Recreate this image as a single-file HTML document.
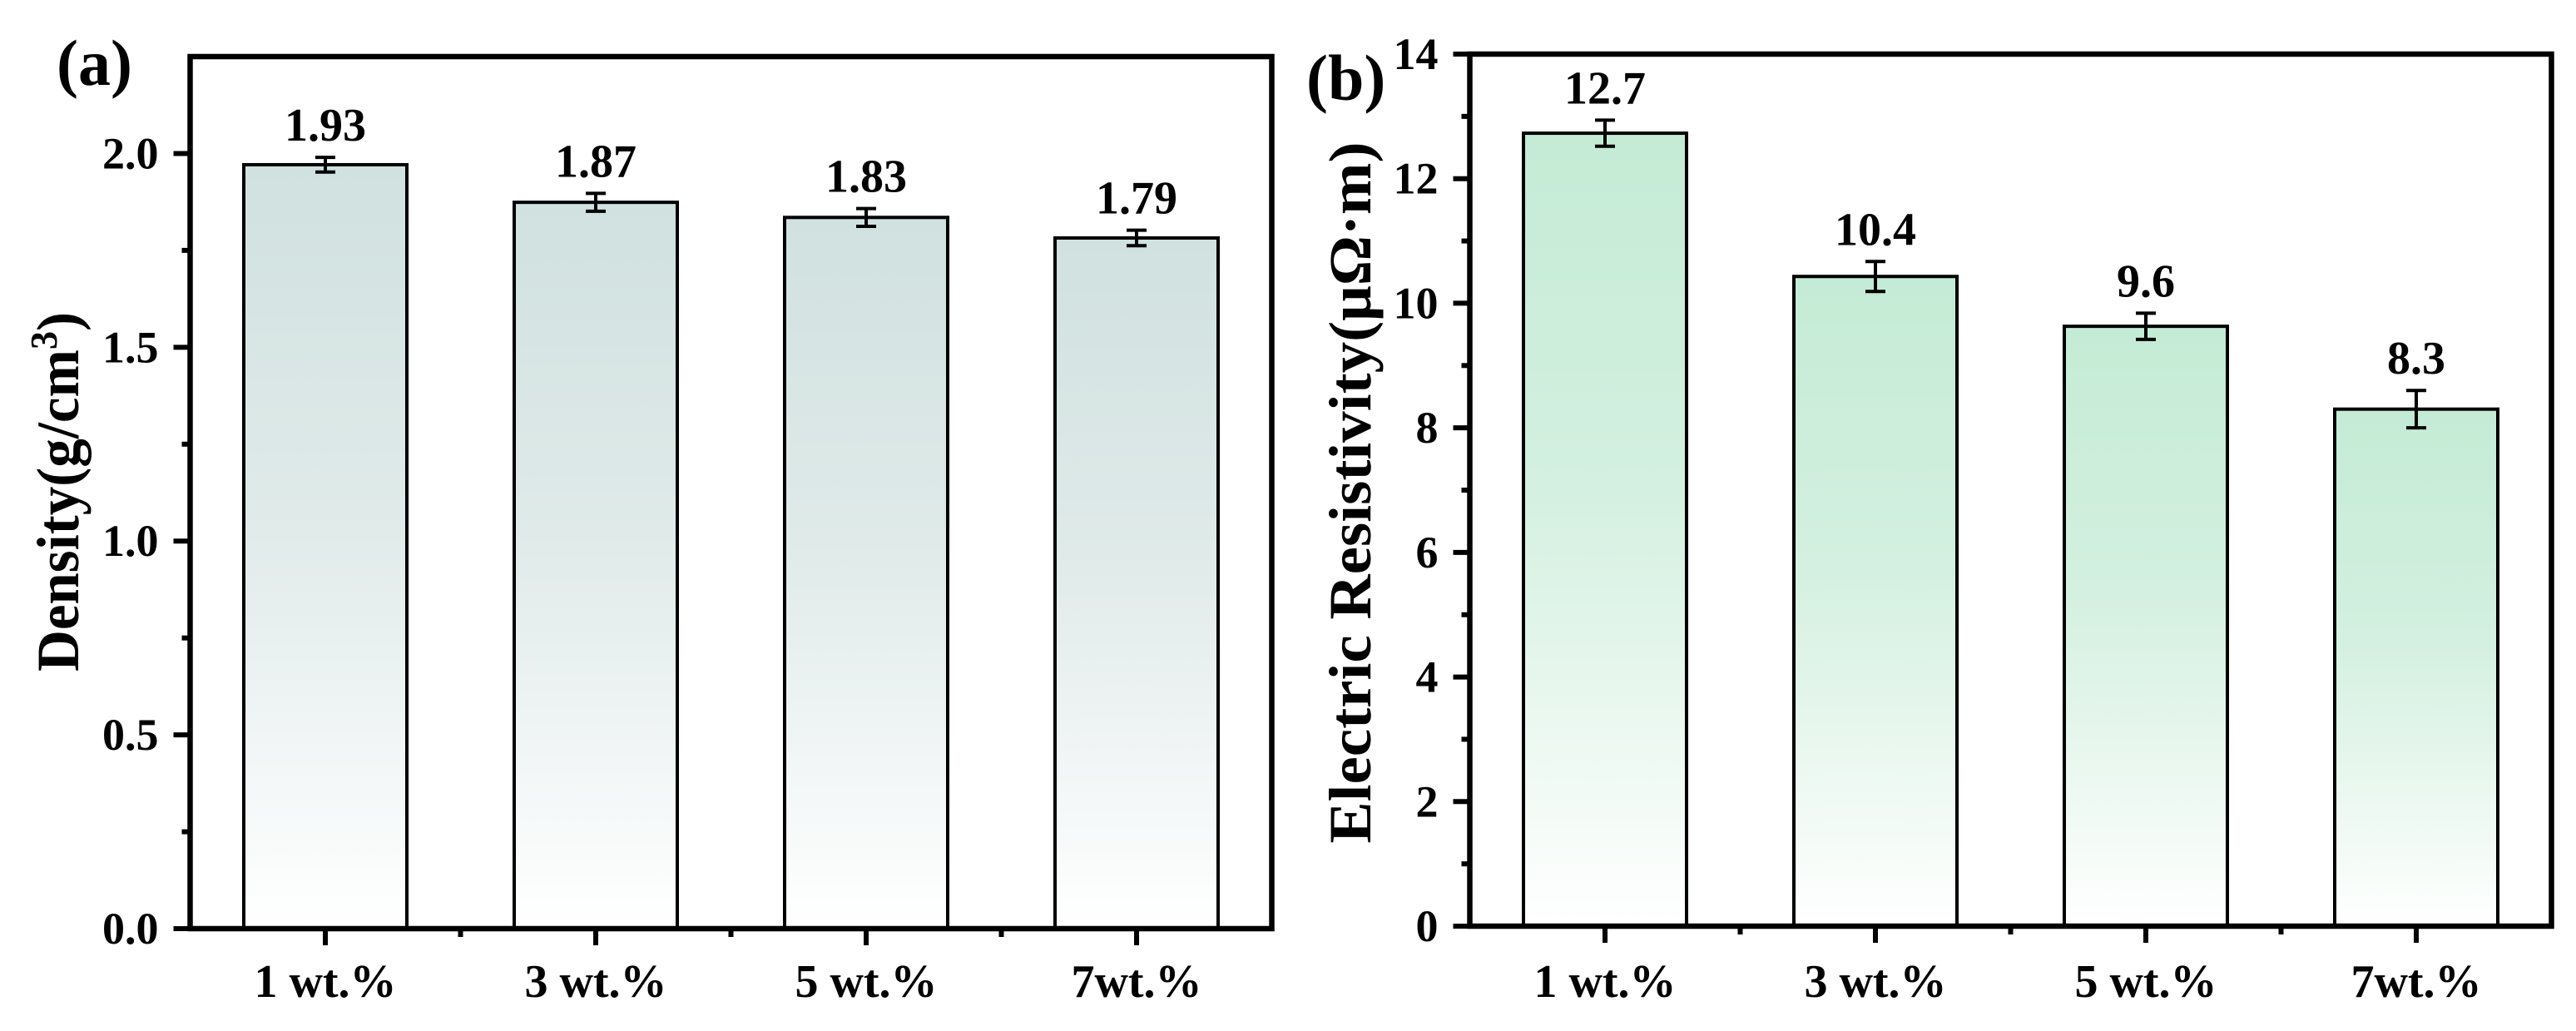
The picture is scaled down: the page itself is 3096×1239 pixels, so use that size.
<!DOCTYPE html>
<html><head><meta charset="utf-8"><style>
html,body{margin:0;padding:0;background:#fff;}
svg{display:block;font-family:"Liberation Serif",serif;font-weight:bold;}
</style></head><body>
<svg id="chart" width="3096" height="1239" viewBox="0 0 3096 1239" xmlns="http://www.w3.org/2000/svg">
<defs>
<linearGradient id="gA" x1="0" y1="0" x2="0" y2="1"><stop offset="0" stop-color="#d0e1df"/><stop offset="0.45" stop-color="#dfeae9"/><stop offset="1" stop-color="#ffffff"/></linearGradient>
<linearGradient id="gB" x1="0" y1="0" x2="0" y2="1"><stop offset="0" stop-color="#c4ebd5"/><stop offset="0.45" stop-color="#d4f0e0"/><stop offset="1" stop-color="#ffffff"/></linearGradient>
</defs>
</svg>
<script>
const categories = ["1 wt.%", "3 wt.%", "5 wt.%", "7wt.%"];
const densityValues = [1.971, 1.874, 1.835, 1.782];
const densityErrors = [0.019, 0.023, 0.023, 0.020];
const densityLabels = ["1.93", "1.87", "1.83", "1.79"];
const densityTicks = ["0.0", "0.5", "1.0", "1.5", "2.0"];
const resistValues = [12.73, 10.43, 9.63, 8.30];
const resistErrors = [0.21, 0.24, 0.21, 0.30];
const resistLabels = ["12.7", "10.4", "9.6", "8.3"];
const resistTicks = ["0", "2", "4", "6", "8", "10", "12", "14"];

const NS = "http://www.w3.org/2000/svg";
const svg = document.getElementById('chart');
function mk(tag, attrs, parent, text){
  const e = document.createElementNS(NS, tag);
  for (const k in attrs) e.setAttribute(k, attrs[k]);
  if (text !== undefined) e.textContent = text;
  (parent || svg).appendChild(e);
  return e;
}

function panel(cfg){
  const g = mk('g', {});
  
  
  const L = cfg.left, R = cfg.left + 1300, T = cfg.top, B = cfg.bottom;
  const ys = v => B - (v - cfg.ymin) / (cfg.ymax - cfg.ymin) * (B - T);
  const xs = i => L + (i + 0.5) * 325;
  cfg.values.forEach((v, i) => {
    const cx = xs(i);
    const bar = mk('rect', {x: cx - 98, y: ys(v), width: 196, height: ys(0) - ys(v), fill: 'url(#' + cfg.grad + ')', stroke: '#000', 'stroke-width': 4}, g);
    
    
    const e = cfg.errors[i];
    const eg = mk('g', {stroke: '#000', 'stroke-width': 4}, g);
    
    
    mk('line', {x1: cx, x2: cx, y1: ys(v + e), y2: ys(v - e)}, eg);
    mk('line', {x1: cx - 12, x2: cx + 12, y1: ys(v + e), y2: ys(v + e)}, eg);
    mk('line', {x1: cx - 12, x2: cx + 12, y1: ys(v - e), y2: ys(v - e)}, eg);
    const lbl = mk('text', {x: cx, y: ys(v + e) - 20, 'text-anchor': 'middle', 'font-size': 56}, g, cfg.labels[i]);
    
    
    const xl = mk('text', {x: cx, y: 1198, 'text-anchor': 'middle', 'font-size': 56}, g, categories[i]);
    
    
    mk('line', {x1: cx, x2: cx, y1: B, y2: B + 20, stroke: '#000', 'stroke-width': 6}, g);
    if (i < categories.length - 1) mk('line', {x1: cx + 162.5, x2: cx + 162.5, y1: B, y2: B + 10, stroke: '#000', 'stroke-width': 6}, g);
  });
  cfg.ticks.forEach((t, i) => {
    const v = parseFloat(t), y = ys(v);
    mk('line', {x1: L - 20, x2: L, y1: y, y2: y, stroke: '#000', 'stroke-width': 6}, g);
    const tl = mk('text', {x: L - 38, y: y + 18, 'text-anchor': 'end', 'font-size': 54}, g, t);
    
    
    const mv = v + cfg.minor;
    if (mv < cfg.ymax) mk('line', {x1: L - 10, x2: L, y1: ys(mv), y2: ys(mv), stroke: '#000', 'stroke-width': 6}, g);
  });
  const fr = mk('rect', {x: L, y: T, width: R - L, height: B - T, fill: 'none', stroke: '#000', 'stroke-width': 6.5}, g);
  
  
  const yt = mk('text', {transform: 'translate(' + cfg.titleX + ',' + cfg.titleCY + ') rotate(-90)', 'text-anchor': 'middle', 'font-size': 72, textLength: cfg.titleLen, lengthAdjust: 'spacingAndGlyphs'}, g);
  
  
  yt.innerHTML = cfg.title;
  const pl = mk('text', {x: cfg.plX, y: cfg.plY, 'font-size': 78}, g, cfg.panelLabel);
  
  
}

panel({name: 'density-chart', left: 228.5, top: 68, bottom: 1116, ymin: 0, ymax: 2.25,
  values: densityValues, errors: densityErrors, labels: densityLabels, ticks: densityTicks, minor: 0.25,
  grad: 'gA', title: 'Density(g/cm<tspan dy="-26" font-size="46">3</tspan><tspan dy="26">)</tspan>',
  titleX: 94, titleCY: 591, titleLen: 432, panelLabel: '(a)', plX: 68, plY: 102});
panel({name: 'resistivity-chart', left: 1766.5, top: 65, bottom: 1113, ymin: 0, ymax: 14,
  values: resistValues, errors: resistErrors, labels: resistLabels, ticks: resistTicks, minor: 1,
  grad: 'gB', title: 'Electric Resistivity(μΩ·m)',
  titleX: 1647, titleCY: 592, titleLen: 843, panelLabel: '(b)', plX: 1570, plY: 120});
</script>
</body></html>
